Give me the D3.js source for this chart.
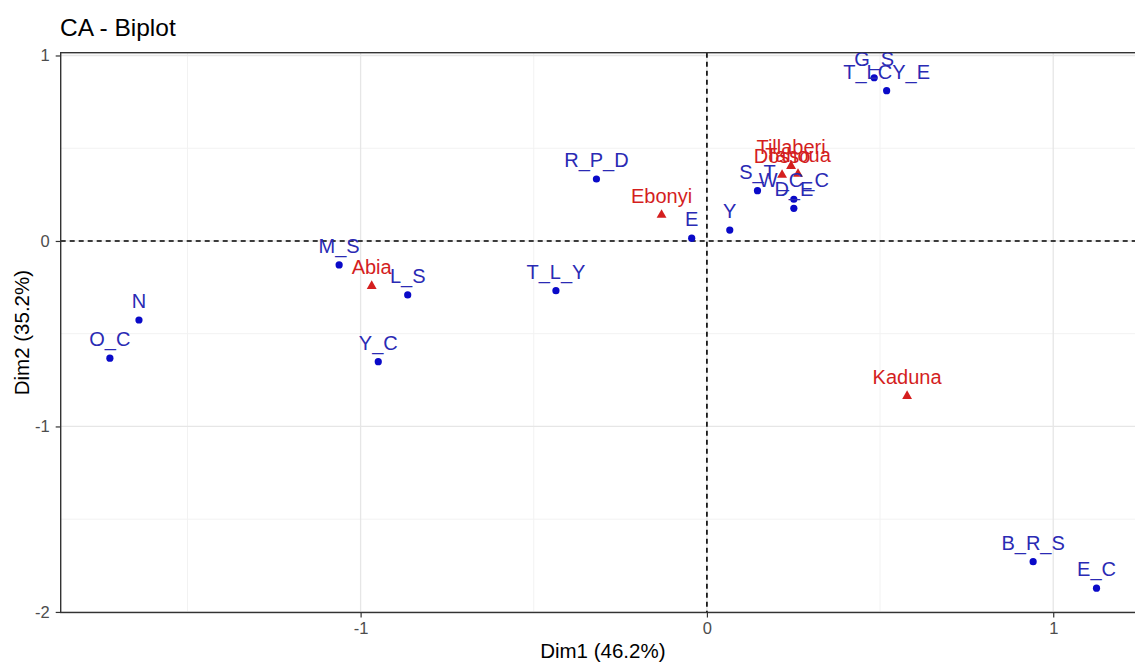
<!DOCTYPE html>
<html>
<head>
<meta charset="utf-8">
<script src="https://cdn.jsdelivr.net/npm/d3@7"></script>
<style>
  html, body { margin: 0; padding: 0; background: #fff; }
  svg { display: block; font-family: "Liberation Sans", Arial, sans-serif; }
</style>
</head>
<body>
<svg id="chart" width="1135" height="668"></svg>
<script>
// Row points (blue circles)
const rowLabels = ["O_C", "N", "M_S", "L_S", "Y_C", "R_P_D", "T_L_Y", "E", "Y", "S_T", "W_C_C", "D_E", "G_S", "T_LCY_E", "B_R_S", "E_C"];
const rowDim1 = [-1.724, -1.640, -1.062, -0.864, -0.949, -0.319, -0.436, -0.044, 0.066, 0.146, 0.251, 0.251, 0.483, 0.519, 0.942, 1.125];
const rowDim2 = [-0.632, -0.426, -0.129, -0.291, -0.651, 0.334, -0.268, 0.015, 0.059, 0.271, 0.225, 0.176, 0.880, 0.810, -1.729, -1.872];

// Column points (red triangles)
const colLabels = ["Abia", "Ebonyi", "Kaduna", "Tillaberi", "Dosso", "Tahoua"];
const colDim1 = [-0.968, -0.131, 0.578, 0.243, 0.217, 0.263];
const colDim2 = [-0.243, 0.140, -0.836, 0.404, 0.356, 0.361];

const xTicks = [-1, 0, 1];
const yTicks = [-2, -1, 0, 1];
const xMinor = [-1.5, -0.5, 0.5, 1.5];
const yMinor = [-1.5, -0.5, 0.5];

const svg = d3.select("#chart");
const panel = { left: 60.7, top: 52.7, right: 1145, bottom: 612.5 };

const x = d3.scaleLinear().domain([-1.866, 1.265]).range([panel.left, panel.right]);
const y = d3.scaleLinear().domain([-2.003, 1.015]).range([panel.bottom, panel.top]);

const rowColor = "#0a0ac8";
const rowText = "#2a2ab4";
const colColor = "#d41e1e";

const g = svg.append("g");

// clip to panel
svg.append("defs").append("clipPath").attr("id", "clip")
  .append("rect").attr("x", panel.left).attr("y", panel.top)
  .attr("width", panel.right - panel.left).attr("height", panel.bottom - panel.top);

const grid = g.append("g").attr("clip-path", "url(#clip)");
grid.selectAll(".xminor").data(xMinor).join("line")
  .attr("x1", d => x(d)).attr("x2", d => x(d))
  .attr("y1", panel.top).attr("y2", panel.bottom)
  .attr("stroke", "#f2f2f2").attr("stroke-width", 1);
grid.selectAll(".yminor").data(yMinor).join("line")
  .attr("y1", d => y(d)).attr("y2", d => y(d))
  .attr("x1", panel.left).attr("x2", panel.right)
  .attr("stroke", "#f2f2f2").attr("stroke-width", 1);
grid.selectAll(".xmajor").data(xTicks).join("line")
  .attr("x1", d => x(d)).attr("x2", d => x(d))
  .attr("y1", panel.top).attr("y2", panel.bottom)
  .attr("stroke", "#e6e6e6").attr("stroke-width", 1.3);
grid.selectAll(".ymajor").data(yTicks).join("line")
  .attr("y1", d => y(d)).attr("y2", d => y(d))
  .attr("x1", panel.left).attr("x2", panel.right)
  .attr("stroke", "#e6e6e6").attr("stroke-width", 1.3);

// reference lines at the origin
grid.append("line")
  .attr("x1", x(0)).attr("x2", x(0)).attr("y1", panel.top).attr("y2", panel.bottom)
  .attr("stroke", "#000").attr("stroke-width", 1.6).attr("stroke-dasharray", "5,4");
grid.append("line")
  .attr("y1", y(0)).attr("y2", y(0)).attr("x1", panel.left).attr("x2", panel.right)
  .attr("stroke", "#000").attr("stroke-width", 1.6).attr("stroke-dasharray", "5,4");

// panel border
g.append("rect")
  .attr("x", panel.left).attr("y", panel.top)
  .attr("width", panel.right - panel.left).attr("height", panel.bottom - panel.top)
  .attr("fill", "none").attr("stroke", "#333").attr("stroke-width", 1.4);

// axes
const xAxis = d3.axisBottom(x).tickValues(xTicks).tickSize(5).tickPadding(5).tickFormat(d => String(d));
const yAxis = d3.axisLeft(y).tickValues(yTicks).tickSize(5).tickPadding(6).tickFormat(d => String(d));

const gx = g.append("g").attr("transform", `translate(0,${panel.bottom})`).call(xAxis);
const gy = g.append("g").attr("transform", `translate(${panel.left},0)`).call(yAxis);
[gx, gy].forEach(a => {
  a.select(".domain").remove();
  a.selectAll(".tick line").attr("stroke", "#333").attr("stroke-width", 1.2);
  a.selectAll(".tick text").attr("fill", "#4d4d4d").style("font-size", "16.5px")
    .style("font-family", "'Liberation Sans', Arial, sans-serif");
});

// axis titles
g.append("text")
  .attr("x", (panel.left + panel.right) / 2).attr("y", 658)
  .attr("text-anchor", "middle").style("font-size", "20.5px").attr("fill", "#000")
  .text("Dim1 (46.2%)");
g.append("text")
  .attr("transform", `translate(29,${(panel.top + panel.bottom) / 2}) rotate(-90)`)
  .attr("text-anchor", "middle").style("font-size", "20.5px").attr("fill", "#000")
  .text("Dim2 (35.2%)");

// title
g.append("text")
  .attr("x", 60).attr("y", 36)
  .style("font-size", "24.5px").attr("fill", "#000")
  .text("CA - Biplot");

const rows = rowLabels.map((l, i) => ({ label: l, d1: rowDim1[i], d2: rowDim2[i] }));
const cols = colLabels.map((l, i) => ({ label: l, d1: colDim1[i], d2: colDim2[i] }));

const marks = g.append("g").attr("clip-path", "url(#clip)");

marks.selectAll(".rowpt").data(rows).join("circle")
  .attr("cx", d => x(d.d1)).attr("cy", d => y(d.d2)).attr("r", 3.6)
  .attr("fill", rowColor);

marks.selectAll(".colpt").data(cols).join("path")
  .attr("d", d3.symbol(d3.symbolTriangle, 42))
  .attr("transform", d => `translate(${x(d.d1)},${y(d.d2)})`)
  .attr("fill", colColor);

marks.selectAll(".rowlab").data(rows).join("text")
  .attr("x", d => x(d.d1)).attr("y", d => y(d.d2) - 12)
  .attr("text-anchor", "middle").style("font-size", "20px")
  .attr("fill", rowText).text(d => d.label);

marks.selectAll(".collab").data(cols).join("text")
  .attr("x", d => x(d.d1)).attr("y", d => y(d.d2) - 12)
  .attr("text-anchor", "middle").style("font-size", "20px")
  .attr("fill", colColor).text(d => d.label);
</script>
</body>
</html>
